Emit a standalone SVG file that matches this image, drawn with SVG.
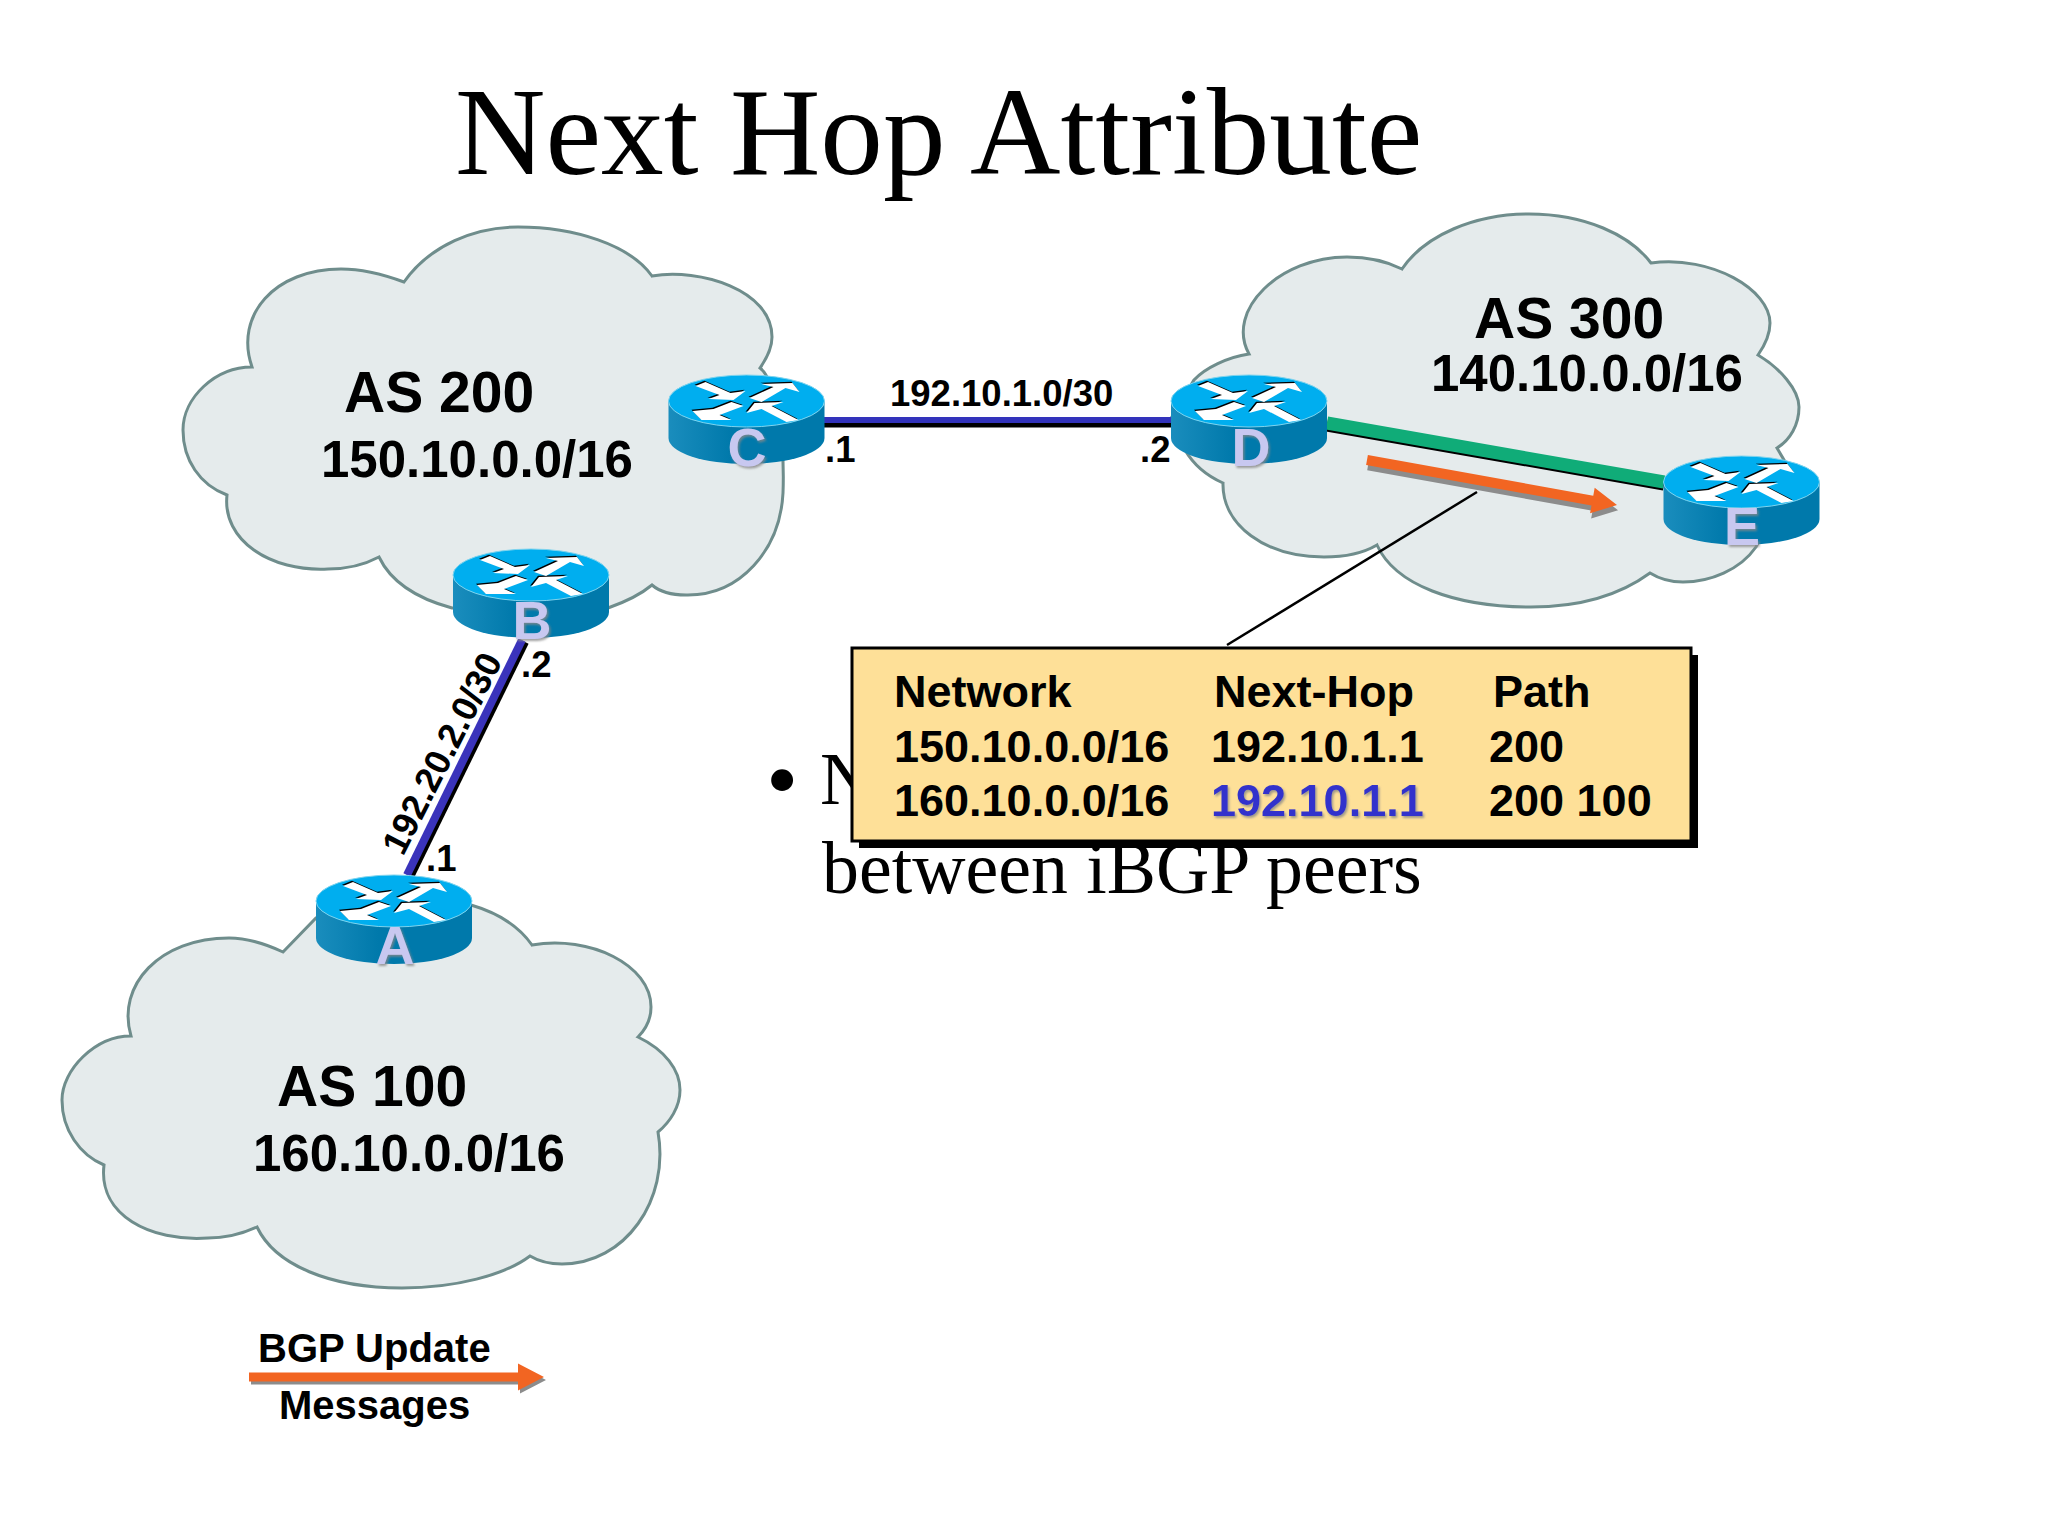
<svg xmlns="http://www.w3.org/2000/svg" xmlns:xlink="http://www.w3.org/1999/xlink" width="2048" height="1536" viewBox="0 0 2048 1536">
<style>
text{font-family:"Liberation Sans",Arial,sans-serif;font-weight:bold;fill:#000}
.serif{font-family:"Liberation Serif","Times New Roman",serif;font-weight:normal}
.cloud{fill:#e5ebec;stroke:#6f8d8c;stroke-width:3;stroke-linejoin:miter}
.as{font-size:57px}.net{font-size:51px}.lbl{font-size:36.5px}.tb{font-size:45px}.leg{font-size:40px}
.rot{font-size:36px}
.letter{font-size:54px;fill:#c8c8f0;text-anchor:middle;filter:url(#soft)}
.hl{fill:#3333cc;filter:url(#soft)}
.orange{fill:#f26522}.oshadow{fill:#8c8c8c}
</style>
<defs>
<filter id="soft" x="-20%" y="-20%" width="150%" height="150%"><feDropShadow dx="1.5" dy="2" stdDeviation="1" flood-color="#888888" flood-opacity="0.8"/></filter>
<linearGradient id="body" x1="0" x2="1" y1="0" y2="0"><stop offset="0" stop-color="#1a8dbd"/><stop offset="0.4" stop-color="#0079ab"/><stop offset="1" stop-color="#0079ab"/></linearGradient>
<g id="router">
<path d="M-78,0V37A78,26 0 0 0 78,37V0Z" fill="url(#body)"/>
<ellipse rx="78" ry="26" fill="#00aeef" stroke="#7fd4ee" stroke-width="1"/>
<g fill="#000" transform="translate(-1,-1.2)">
<polygon points="-51,-15 -41,-19 -16,-8 -1,-10 -13,-1 -38,-2 -27,-6"/>
<polygon points="3,-3 27,-14 15,-17 46,-18 53,-9 39,-13 15,1"/>
<polygon points="-15,1 -3,5 -27,14 -15,19 -45,19 -54,10 -33,8"/>
<polygon points="52,19 40,21 15,8 0,12 8,2 37,1 25,5"/>
</g>
<g fill="#fff">
<polygon points="-51,-15 -41,-19 -16,-8 -1,-10 -13,-1 -38,-2 -27,-6"/>
<polygon points="3,-3 27,-14 15,-17 46,-18 53,-9 39,-13 15,1"/>
<polygon points="-15,1 -3,5 -27,14 -15,19 -45,19 -54,10 -33,8"/>
<polygon points="52,19 40,21 15,8 0,12 8,2 37,1 25,5"/>
</g>
</g>
</defs>
<rect width="2048" height="1536" fill="#fff"/>
<text class="serif" x="455" y="174" font-size="125.3">Next Hop Attribute</text>
<text class="serif" x="766" y="810" font-size="92">•</text>
<text class="serif" x="820" y="804" font-size="73.8">N</text>
<text class="serif" x="822" y="893" font-size="73.8">between iBGP peers</text>

<g id="cloud-as200">
<path class="cloud" d="M404,282C430,245 475,227 518,227C575,227 630,245 652,276C700,268 772,290 772,337C772,348 767,358 760,368C776,380 785,440 783,493C780,550 740,596 686,595C672,595 660,592 652,585C640,595 625,602 608,608L452,608C415,598 390,580 379,557C362,566 345,569 328,569C270,572 222,540 227,495C200,485 183,460 183,430C183,398 215,367 252,367C234,315 275,269 341,269C365,269 385,275 404,282Z"/>
<text class="as" x="344" y="412">AS 200</text>
<text class="net" x="321" y="477">150.10.0.0/16</text>
</g>
<g id="cloud-as300">
<path class="cloud" d="M1402,269C1425,235 1475,214 1529,214C1585,214 1630,235 1651,263C1712,255 1770,290 1770,323C1770,335 1765,345 1758,355C1780,368 1799,390 1799,407C1799,425 1790,440 1777,448L1790,470L1756,547C1740,570 1710,582 1683,582C1670,582 1658,578 1650,573C1620,595 1580,607 1531,607C1455,607 1395,585 1377,545C1360,555 1342,557 1324,557C1265,557 1222,525 1223,483C1205,475 1192,462 1185,450L1170,420L1194,380C1205,368 1228,357 1249,354C1225,310 1280,257 1347,257C1370,257 1388,262 1402,269Z"/>
<text class="as" x="1474" y="338">AS 300</text>
<text class="net" x="1431" y="391">140.10.0.0/16</text>
</g>
<g id="cloud-as100">
<path class="cloud" d="M283,952L316,918L471,905C495,912 518,925 532,945C590,935 651,965 651,1007C651,1018 647,1028 638,1037C665,1050 680,1070 680,1090C680,1107 670,1122 658,1132C670,1200 625,1264 562,1264C550,1264 540,1262 530,1256C505,1275 455,1288 402,1288C330,1288 275,1265 257,1227C240,1235 225,1238 208,1238C150,1242 98,1215 104,1165C80,1155 62,1130 62,1100C62,1070 95,1036 131,1036C116,985 160,938 229,938C248,938 268,945 283,952Z"/>
<text class="as" x="277" y="1106">AS 100</text>
<text class="net" x="253" y="1171">160.10.0.0/16</text>
</g>

<g id="connectors" fill="none">
<line x1="824" y1="424.5" x2="1171" y2="424.5" stroke="#000" stroke-width="6"/>
<line x1="824" y1="420" x2="1171" y2="420" stroke="#3333bb" stroke-width="6"/>
<line x1="410" y1="877" x2="525" y2="642" stroke="#000" stroke-width="8"/>
<line x1="407" y1="875" x2="522" y2="640" stroke="#3a33bb" stroke-width="8"/>
<line x1="1327" y1="425" x2="1664" y2="484" stroke="#000" stroke-width="13"/>
<line x1="1327" y1="423" x2="1664" y2="482" stroke="#10ac78" stroke-width="13"/>
<line x1="1477" y1="492" x2="1227" y2="645" stroke="#000" stroke-width="2.5"/>
<g transform="translate(1367,460) rotate(10.2)">
<polygon class="oshadow" transform="translate(2,5)" points="0,-5 229,-5 229,-13 254,0 229,13 229,5 0,5"/>
<polygon class="orange" points="0,-5 229,-5 229,-13 254,0 229,13 229,5 0,5"/>
</g>
<g transform="translate(249,1377)">
<polygon class="oshadow" transform="translate(2,3)" points="0,-4.5 269,-4.5 269,-13.5 295,0 269,13.5 269,4.5 0,4.5"/>
<polygon class="orange" points="0,-4.5 269,-4.5 269,-13.5 295,0 269,13.5 269,4.5 0,4.5"/>
</g>
</g>

<g id="router-c"><use xlink:href="#router" href="#router" x="746.5" y="401"/><text class="letter" x="747" y="466">C</text></g>
<g id="router-d"><use xlink:href="#router" href="#router" x="1249" y="401"/><text class="letter" x="1251" y="466">D</text></g>
<g id="router-e"><use xlink:href="#router" href="#router" x="1741.5" y="482"/><text class="letter" x="1742" y="545">E</text></g>
<g id="router-b"><use xlink:href="#router" href="#router" x="531" y="575"/><text class="letter" x="532" y="639">B</text></g>
<g id="router-a"><use xlink:href="#router" href="#router" x="394" y="901"/><text class="letter" x="395" y="964">A</text></g>

<g id="link-labels">
<text class="lbl" x="890" y="406">192.10.1.0/30</text>
<text class="lbl" x="825" y="462">.1</text>
<text class="lbl" x="1140" y="462">.2</text>
<text class="lbl" x="521" y="677">.2</text>
<text class="lbl" x="426" y="871">.1</text>
<text class="rot" transform="translate(403,857) rotate(-63)">192.20.2.0/30</text>
</g>

<g id="table">
<rect x="859" y="655" width="839" height="193" fill="#000"/>
<rect x="852" y="648" width="839" height="193" fill="#fee098" stroke="#000" stroke-width="3"/>
<text class="tb" x="894" y="707">Network</text>
<text class="tb" x="1214" y="707">Next-Hop</text>
<text class="tb" x="1493" y="707">Path</text>
<text class="tb" x="894" y="762">150.10.0.0/16</text>
<text class="tb" x="1211" y="762">192.10.1.1</text>
<text class="tb" x="1489" y="762">200</text>
<text class="tb" x="894" y="816">160.10.0.0/16</text>
<text class="tb hl" x="1211" y="816">192.10.1.1</text>
<text class="tb" x="1489" y="816">200 100</text>
</g>

<g id="legend">
<text class="leg" x="258" y="1362">BGP Update</text>
<text class="leg" x="279" y="1419">Messages</text>
</g>
</svg>
